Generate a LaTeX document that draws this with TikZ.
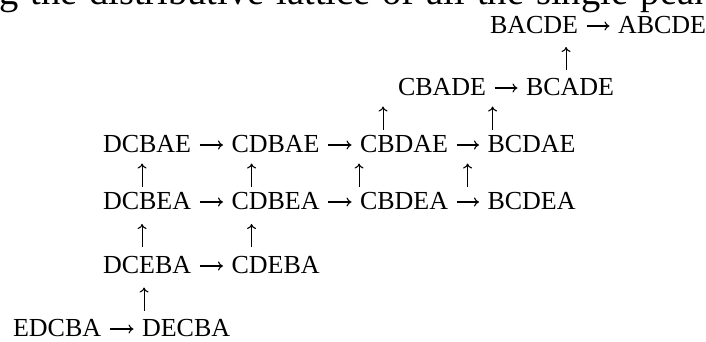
\documentclass[tikz,border=0pt]{standalone}
\usepackage{fontspec}
\setmainfont{Liberation Serif}
\usetikzlibrary{arrows.meta,calc}

\tikzset{
  perm/.style={anchor=base west, inner sep=0pt, outer sep=0pt,
    font=\fontsize{26}{30}\selectfont},
  rarr/.style={line width=1.1pt, -{Computer Modern Rightarrow[length=5pt,width=9pt]},
    shorten <=8.5pt, shorten >=8.5pt},
  uarr/.style={line width=1.1pt, -{Computer Modern Rightarrow[length=5pt,width=9pt]}},
}

% vertical link: x offset from the lower node, lower node, upper node
\newcommand\vlink[3]{%
  \draw[uarr] ($(#2.north)!.5!(#2.north |- #3.south) + (#1,14.5)$)
           -- ($(#2.north)!.5!(#2.north |- #3.south) + (#1,-8.5)$);}
% horizontal link at the height of the math axis
\newcommand\hlink[2]{%
  \draw[rarr] ([yshift=7pt]#1.base east) -- ([yshift=7pt]#2.base west);}

\begin{document}
\begin{tikzpicture}[x=1pt,y=-1pt]
\useasboundingbox (0,0) rectangle (706,341);
\fill[white] (0,0) rectangle (706,341);

% the running line of text above the lattice, cut by the page edge
\begin{scope}
  \clip (0,0) rectangle (706,341);
  \node[anchor=base west, inner sep=0pt, font=\fontsize{38.5}{44}\selectfont]
    (caption) at (-1,4.5)
    {\spaceskip=0.31em\relax g the distributive lattice of all the single-peaked};
\end{scope}

% permutations, one row per level
\node[perm] (BACDE) at (490,33)  {BACDE};
\node[perm] (ABCDE) at (618,33)  {ABCDE};

\node[perm] (CBADE) at (398,95)  {CBADE};
\node[perm] (BCADE) at (526,95)  {BCADE};

\node[perm] (DCBAE) at (103,152) {DCBAE};
\node[perm] (CDBAE) at (231.5,152) {CDBAE};
\node[perm] (CBDAE) at (360,152) {CBDAE};
\node[perm] (BCDAE) at (487.5,152) {BCDAE};

\node[perm] (DCBEA) at (103,209) {DCBEA};
\node[perm] (CDBEA) at (231.5,209) {CDBEA};
\node[perm] (CBDEA) at (360,209) {CBDEA};
\node[perm] (BCDEA) at (487.5,209) {BCDEA};

\node[perm] (DCEBA) at (103,273) {DCEBA};
\node[perm] (CDEBA) at (231.5,273) {CDEBA};

\node[perm] (EDCBA) at (13,336)  {EDCBA};
\node[perm] (DECBA) at (142,336) {DECBA};

% horizontal moves
\hlink{BACDE}{ABCDE}
\hlink{CBADE}{BCADE}
\hlink{DCBAE}{CDBAE}
\hlink{CDBAE}{CBDAE}
\hlink{CBDAE}{BCDAE}
\hlink{DCBEA}{CDBEA}
\hlink{CDBEA}{CBDEA}
\hlink{CBDEA}{BCDEA}
\hlink{DCEBA}{CDEBA}
\hlink{EDCBA}{DECBA}

% vertical moves
\vlink{-4}{BCADE}{BACDE}
\vlink{-21}{CBDAE}{CBADE}
\vlink{-39}{BCDAE}{BCADE}
\vlink{-5}{DCBEA}{DCBAE}
\vlink{-24}{CDBEA}{CDBAE}
\vlink{-45}{CBDEA}{CBDAE}
\vlink{-64}{BCDEA}{BCDAE}
\vlink{-5}{DCEBA}{DCBEA}
\vlink{-24}{CDEBA}{CDBEA}
\vlink{-42}{DECBA}{DCEBA}
\end{tikzpicture}
\end{document}
